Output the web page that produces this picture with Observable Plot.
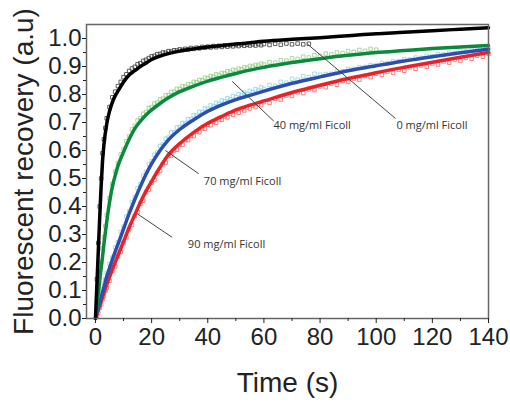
<!DOCTYPE html>
<html><head><meta charset="utf-8">
<script src="https://cdn.jsdelivr.net/npm/d3@7"></script>
<script src="https://cdn.jsdelivr.net/npm/@observablehq/plot@0.6"></script>
<style>body{margin:0;background:#fff} svg{display:block}</style>
</head><body><div id="chart"></div>
<script>
// measured time points (s)
const dataT = [0.5,1,1.5,2,2.5,3,3.5,4,5,6,7,8,9,10,11,12,13,14,15,16,17,18,19,20,21,22,23,24,25,26,27,28,29,30,31,32,33,34,35,36,37,38,39,40,41,42,43,44,45,46,47,48,49,50,51,52,53,54,55,56,57,58,59,60,62,64,66,68,70,72,74,76,78,80,82,84,86,88,90,92,94,96,98,100,102,104,106,108,110,112,114,116,118,120,122,124,126,128,130,132,134,136,138,140];
// measured recovery (open squares)
const data0 = [0.14,0.27,0.40,0.50,0.59,0.64,0.68,0.715,0.755,0.79,0.81,0.83,0.845,0.862,0.872,0.884,0.893,0.899,0.908,0.912,0.92,0.924,0.93,0.936,0.938,0.944,0.945,0.95,0.949,0.955,0.953,0.958,0.957,0.961,0.959,0.963,0.961,0.966,0.963,0.967,0.965,0.97,0.967,0.971,0.968,0.973,0.969,0.974,0.97,0.975,0.971,0.976,0.972,0.977,0.973,0.978,0.974,0.978,0.975,0.979,0.975,0.98,0.976,0.98,0.977,0.981,0.978,0.982,0.979,0.982,0.979,0.981];
const data40 = [0.06,0.11,0.16,0.2,0.25,0.29,0.33,0.37,0.43,0.48,0.525,0.555,0.586,0.605,0.633,0.65,0.675,0.688,0.707,0.715,0.731,0.737,0.751,0.755,0.768,0.771,0.783,0.785,0.797,0.798,0.809,0.81,0.82,0.82,0.829,0.828,0.837,0.836,0.845,0.844,0.852,0.851,0.86,0.858,0.866,0.864,0.872,0.869,0.877,0.875,0.883,0.88,0.888,0.885,0.892,0.89,0.897,0.895,0.902,0.899,0.906,0.903,0.91,0.907,0.915,0.914,0.922,0.921,0.929,0.927,0.935,0.932,0.94,0.938,0.946,0.943,0.95,0.948,0.955,0.952,0.959,0.956,0.963,0.96];
const data70 = [0.03,0.05,0.068,0.088,0.104,0.124,0.14,0.163,0.195,0.218,0.254,0.273,0.309,0.328,0.364,0.383,0.416,0.433,0.465,0.48,0.51,0.523,0.55,0.561,0.585,0.593,0.616,0.621,0.642,0.646,0.664,0.665,0.682,0.683,0.698,0.697,0.712,0.711,0.726,0.724,0.738,0.736,0.75,0.748,0.761,0.757,0.77,0.766,0.779,0.775,0.787,0.782,0.794,0.79,0.801,0.796,0.807,0.802,0.813,0.808,0.819,0.814,0.825,0.82,0.834,0.831,0.845,0.842,0.856,0.853,0.865,0.862,0.874,0.871,0.873,0.874,0.882,0.883,0.891,0.891,0.898,0.898,0.905,0.905,0.912,0.912,0.919,0.919,0.926,0.925,0.932,0.931,0.938,0.937,0.944,0.943,0.949,0.948,0.955,0.954,0.96,0.959,0.965,0.964];
const data90 = [0.01,0.02,0.038,0.05,0.068,0.08,0.098,0.11,0.135,0.17,0.186,0.222,0.238,0.27,0.29,0.318,0.334,0.366,0.38,0.41,0.421,0.451,0.46,0.485,0.495,0.519,0.527,0.551,0.557,0.58,0.582,0.6,0.603,0.62,0.62,0.637,0.637,0.652,0.652,0.667,0.665,0.68,0.678,0.692,0.69,0.703,0.699,0.712,0.71,0.722,0.718,0.731,0.728,0.74,0.735,0.748,0.743,0.754,0.75,0.761,0.755,0.766,0.762,0.773,0.77,0.785,0.782,0.797,0.795,0.808,0.805,0.819,0.816,0.829,0.826,0.839,0.835,0.848,0.845,0.857,0.853,0.866,0.862,0.874,0.87,0.882,0.878,0.889,0.885,0.897,0.892,0.904,0.899,0.911,0.907,0.918,0.914,0.925,0.921,0.932,0.928,0.939,0.935,0.946];
const strayT = [3.6];
const strayV = [0.10];
// fitted curves
const fitT = [0,0.5,1,1.5,2,2.5,3,4,5,6,7,8,10,12,14,16,18,20,23,26,30,35,40,45,50,55,60,70,80,90,100,110,120,130,140];
const fit0 = [0,0.12,0.24,0.36,0.47,0.56,0.62,0.695,0.74,0.772,0.795,0.812,0.845,0.87,0.885,0.9,0.912,0.925,0.937,0.946,0.955,0.963,0.97,0.975,0.98,0.985,0.99,0.997,1.003,1.01,1.017,1.022,1.028,1.033,1.038];
const fit40 = [0,0.045,0.09,0.135,0.18,0.22,0.265,0.345,0.415,0.47,0.51,0.545,0.595,0.64,0.678,0.705,0.727,0.745,0.768,0.788,0.81,0.83,0.848,0.862,0.875,0.887,0.897,0.914,0.928,0.94,0.95,0.957,0.964,0.97,0.975];
const fit70 = [0,0.02,0.038,0.057,0.075,0.094,0.112,0.15,0.18,0.21,0.238,0.265,0.32,0.375,0.425,0.472,0.515,0.553,0.6,0.638,0.675,0.71,0.74,0.763,0.782,0.797,0.812,0.84,0.863,0.885,0.903,0.92,0.935,0.949,0.962];
const fit90 = [0,0.015,0.03,0.045,0.06,0.075,0.09,0.12,0.148,0.175,0.2,0.225,0.275,0.325,0.37,0.415,0.455,0.49,0.54,0.585,0.625,0.665,0.697,0.722,0.745,0.762,0.777,0.807,0.833,0.857,0.878,0.897,0.915,0.933,0.95];
// annotations
const labels = ["0 mg/ml Ficoll","40 mg/ml Ficoll","70 mg/ml Ficoll","90 mg/ml Ficoll"];
const labelT = [107.2, 63.4, 38.6, 32.9];
const labelV = [0.689, 0.689, 0.49, 0.264];
const leadT1 = [75.4, 48.7, 24.9, 14.9];
const leadV1 = [0.981, 0.847, 0.6, 0.374];
const leadT2 = [106.9, 63.5, 36.8, 27.3];
const leadV2 = [0.714, 0.705, 0.517, 0.29];
const yTicks = [0,0.1,0.2,0.3,0.4,0.5,0.6,0.7,0.8,0.9,1.0];
const yMinor = [0.05,0.15,0.25,0.35,0.45,0.55,0.65,0.75,0.85,0.95];
const xTicks = [0,20,40,60,80,100,120,140];
const xMinor = [10,30,50,70,90,110,130];

const rows = (vals) => vals.map((v, i) => ({t: dataT[i], v}));
const fitRows = (vals) => vals.map((v, i) => ({t: fitT[i], v}));
const series = [
  {d: data90, f: fit90, dc: "#ff5a5a", fc: "#e8222b"},
  {d: data70, f: fit70, dc: "#86d6ee", fc: "#2c4fae"},
  {d: data40, f: fit40, dc: "#8fd087", fc: "#0c8a3c"},
  {d: data0, f: fit0, dc: "#3a3a3a", fc: "#000000"}
];
const ann = labels.map((l, i) => ({l, t: labelT[i], v: labelV[i], t1: leadT1[i], v1: leadV1[i], t2: leadT2[i], v2: leadV2[i]}));

const marks = [];
for (const s of series) {
  marks.push(Plot.dot(rows(s.d), {x: "t", y: "v", symbol: "square", r: 2, stroke: s.dc, fill: "none", strokeWidth: 0.8}));
}
marks.push(Plot.dot(strayT.map((t, i) => ({t, v: strayV[i]})), {x: "t", y: "v", symbol: "square", r: 1.8, stroke: "#93b88c", fill: "none", strokeWidth: 0.8}));
for (const s of series) {
  marks.push(Plot.line(fitRows(s.f), {x: "t", y: "v", stroke: s.fc, strokeWidth: 3.5, curve: "monotone-x"}));
}
marks.push(Plot.link(ann, {x1: "t1", y1: "v1", x2: "t2", y2: "v2", stroke: "#444", strokeWidth: 1}));
marks.push(Plot.text(ann, {x: "t", y: "v", text: "l", textAnchor: "start", fontSize: 11, fill: "#333", fontFamily: "Open Sans"}));
marks.push(Plot.frame({stroke: "#666", strokeWidth: 1.5}));
marks.push(Plot.axisY({ticks: yTicks, tickFormat: d => d.toFixed(1), tickSize: 4, tickPadding: 1, fontSize: 24, label: null, color: "#222"}));
marks.push(Plot.axisY({ticks: yMinor, tickFormat: () => "", tickSize: 3, label: null, color: "#222"}));
marks.push(Plot.axisX({ticks: xTicks, tickFormat: d => String(d), tickSize: 5, tickPadding: 4, fontSize: 24, label: null, color: "#222"}));
marks.push(Plot.axisX({ticks: xMinor, tickFormat: () => "", tickSize: 3, label: null, color: "#222"}));
marks.push(Plot.text(["Fluorescent recovery (a.u)"], {text: d => d, frameAnchor: "left", dx: -62, rotate: -90, textAnchor: "middle", lineAnchor: "middle", fontSize: 28, fill: "#222"}));
marks.push(Plot.text(["Time (s)"], {text: d => d, frameAnchor: "bottom", dy: 65, textAnchor: "middle", lineAnchor: "middle", fontSize: 28, fill: "#222"}));

const chart = Plot.plot({
  width: 510, height: 404,
  marginLeft: 86, marginRight: 22, marginTop: 24, marginBottom: 86,
  style: {fontFamily: "'Liberation Sans', Arial, sans-serif", background: "#fff", overflow: "visible"},
  x: {domain: [-3.2, 140]},
  y: {domain: [0, 1.05]},
  marks
});
document.getElementById("chart").appendChild(chart);
</script>
</body></html>
